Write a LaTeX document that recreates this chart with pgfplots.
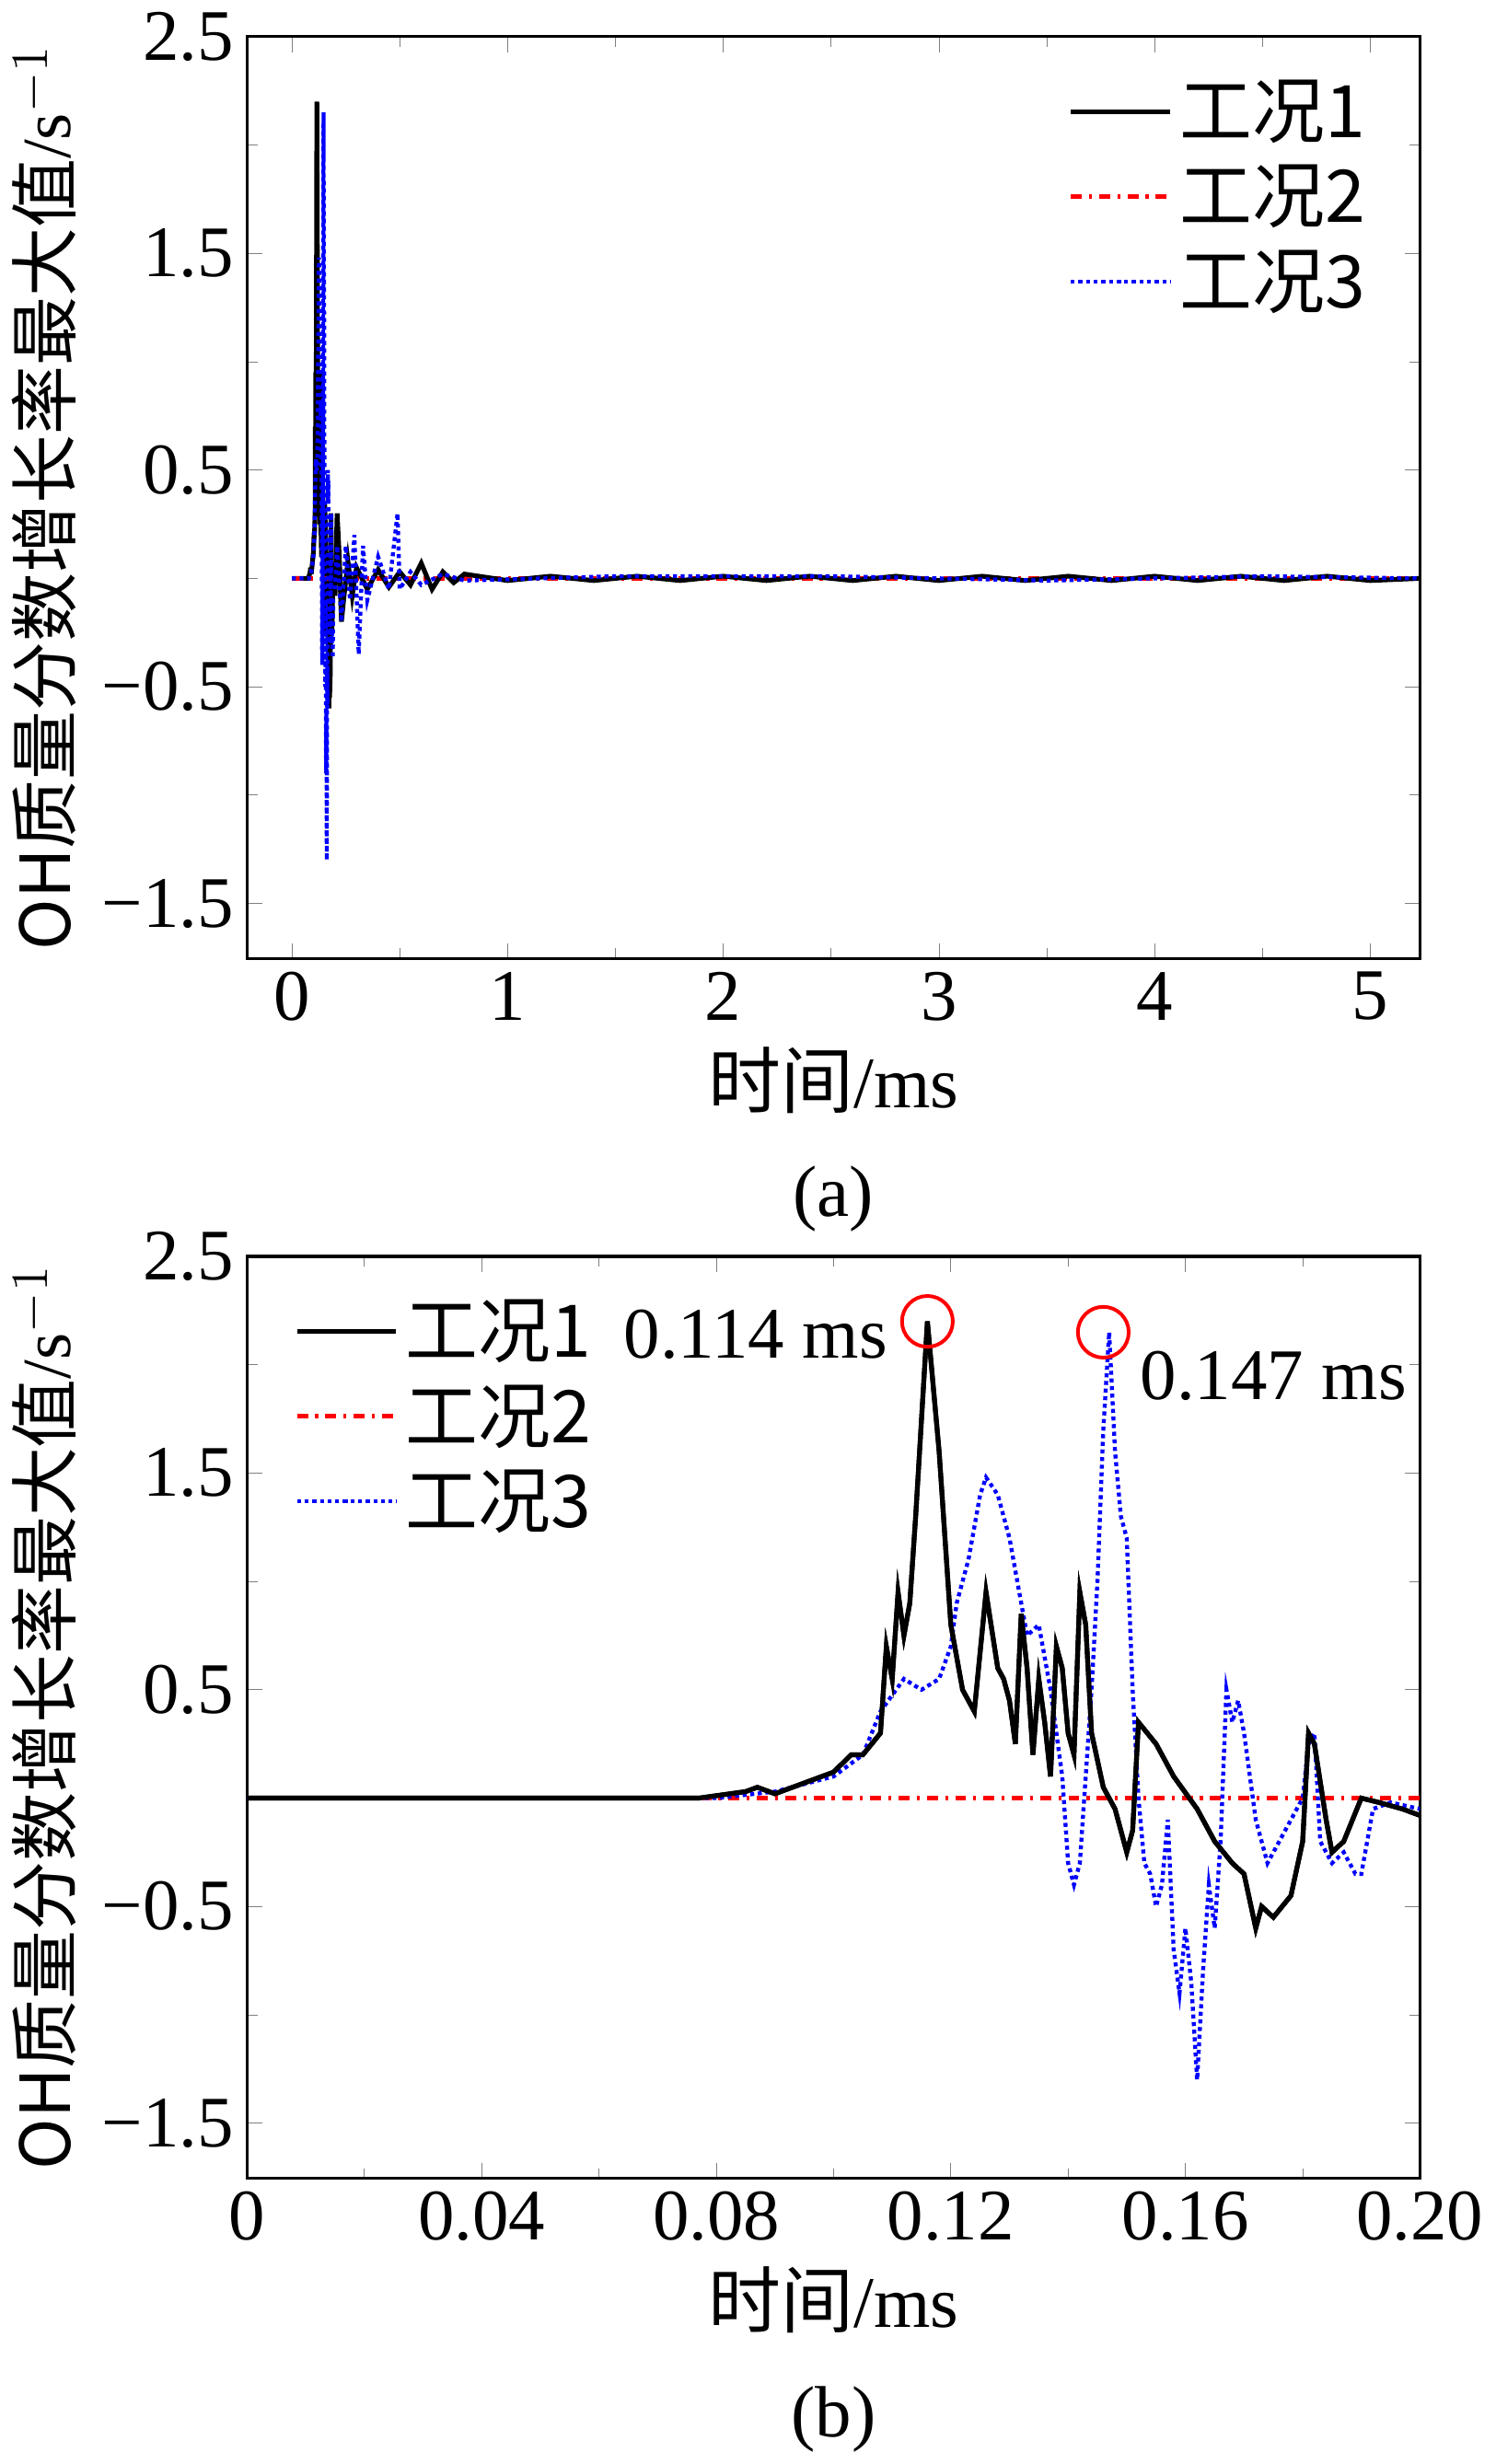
\documentclass[border=0pt]{standalone}
\usepackage{pgfplots}
\usepackage{pgfplotstable}
\pgfplotsset{compat=1.18}
\usepackage{fontspec}
\setmainfont{Liberation Serif}
\newfontfamily\cjk{Noto Sans CJK SC}
\pgfplotstableread{
x y
0 0
0.077 0
0.085 0.03
0.087 0.05
0.09 0.02
0.095 0.07
0.1 0.12
0.103 0.2
0.105 0.2
0.108 0.3
0.109 0.7
0.110 0.55
0.111 0.95
0.112 0.75
0.113 0.9
0.114 1.3
0.116 2.2
0.118 1.6
0.120 0.8
0.122 0.5
0.124 0.4
0.126 0.95
0.128 0.6
0.129 0.55
0.130 0.45
0.131 0.25
0.132 0.85
0.133 0.6
0.134 0.2
0.135 0.55
0.136 0.35
0.137 0.1
0.138 0.7
0.139 0.6
0.140 0.3
0.141 0.2
0.142 0.95
0.143 0.8
0.144 0.3
0.146 0.05
0.148 -0.05
0.150 -0.25
0.151 -0.15
0.152 0.35
0.155 0.25
0.158 0.1
0.162 -0.05
0.165 -0.2
0.168 -0.3
0.170 -0.35
0.172 -0.6
0.173 -0.5
0.175 -0.55
0.178 -0.45
0.180 -0.2
0.181 0.3
0.182 0.25
0.184 -0.1
0.185 -0.25
0.187 -0.2
0.19 0.0
0.193 -0.02
0.197 -0.05
0.2 -0.08
}\caseA
\pgfplotstableread{
x y
0.2 -0.08
0.21 0.3
0.22 0.1
0.23 -0.2
0.24 -0.1
0.26 0.08
0.28 -0.08
0.3 0.05
0.35 -0.05
0.4 0.04
0.45 -0.04
0.5 0.03
0.55 -0.03
0.6 0.07
0.65 -0.05
0.7 0.03
0.75 -0.02
0.8 0.02
1.0 -0.01
1.2 0.01
1.4 -0.01
1.6 0.01
1.8 -0.01
2.0 0.01
2.2 -0.01
2.4 0.01
2.6 -0.01
2.8 0.01
3.0 -0.01
3.2 0.01
3.4 -0.01
3.6 0.01
3.8 -0.01
4.0 0.01
4.2 -0.01
4.4 0.01
4.6 -0.01
4.8 0.01
5.0 -0.01
5.23 0
}\caseAtail
\pgfplotstableread{
x y
0 0
0.08 0
0.09 0.03
0.1 0.1
0.105 0.2
0.108 0.4
0.112 0.55
0.115 0.5
0.118 0.55
0.12 0.7
0.121 0.9
0.123 1.1
0.125 1.4
0.126 1.48
0.128 1.4
0.130 1.2
0.132 0.9
0.133 0.75
0.135 0.8
0.137 0.5
0.139 0.1
0.140 -0.3
0.141 -0.4
0.142 -0.3
0.143 0.1
0.144 0.5
0.145 1.0
0.146 1.7
0.147 2.15
0.148 1.6
0.149 1.3
0.150 1.2
0.151 0.5
0.152 0.0
0.153 -0.3
0.154 -0.35
0.155 -0.5
0.156 -0.4
0.157 -0.1
0.158 -0.7
0.159 -0.9
0.160 -0.6
0.161 -0.85
0.162 -1.3
0.163 -0.8
0.164 -0.4
0.165 -0.6
0.166 -0.2
0.167 0.5
0.168 0.35
0.169 0.45
0.170 0.3
0.172 -0.1
0.174 -0.3
0.176 -0.2
0.178 -0.1
0.180 0.0
0.181 0.25
0.182 0.3
0.183 -0.2
0.185 -0.3
0.187 -0.25
0.189 -0.35
0.190 -0.35
0.192 -0.05
0.195 -0.02
0.2 -0.05
}\caseC
\pgfplotstableread{
x y
0.2 -0.05
0.21 0.15
0.23 -0.2
0.25 0.15
0.27 -0.1
0.29 0.2
0.31 -0.35
0.33 0.15
0.35 -0.1
0.4 0.1
0.45 -0.05
0.49 0.3
0.5 -0.05
0.55 0.03
0.6 -0.03
0.7 0.02
0.8 -0.01
1.5 0.01
2.5 0.01
3.5 -0.01
4.5 0.01
5.23 0
}\caseCtail
\pgfplotsset{
  every axis/.style={font=\fontsize{20}{24}\selectfont},
  ax/.style={scale only axis, width=323pt, height=254pt,
    ymin=-1.755, ymax=2.5, ytick={-1.5,-0.5,0.5,1.5,2.5},
    yticklabels={−1.5,−0.5,0.5,1.5,2.5},
    minor y tick num=1, minor x tick num=1,
    tick align=inside, line width=0.8pt,
    /pgf/number format/assume math mode=true,
    ylabel={{\cjk OH质量分数增长率最大值}/s$^{-1}$},
    ylabel style={font=\fontsize{19}{22}\selectfont},
    legend style={draw=none, fill=none, font=\fontsize{20}{24}\selectfont, row sep=2pt},
    legend cell align=left,
    legend image post style={xscale=1.6},
  },
  s1/.style={black, line width=1.3pt},
  s2/.style={red, dash dot, line width=1.2pt},
  s3/.style={blue, densely dotted, line width=1.1pt},
}
\begin{document}
\begin{tikzpicture}
\begin{axis}[ax, name=a, xmin=-0.207, xmax=5.23, xtick={0,1,2,3,4,5},
  legend pos=north east,
  xlabel style={align=center}, xlabel={{\cjk 时间}/ms\\[6pt](a)}]
\addplot[s1] table {\caseA};
\addlegendentry{\cjk 工况1}
\addplot[s2] coordinates {(0,0) (5.23,0)};
\addlegendentry{\cjk 工况2}
\addplot[s3] table {\caseC};
\addlegendentry{\cjk 工况3}
\addplot[s1, forget plot] table {\caseAtail};
\addplot[s3, forget plot] table {\caseCtail};
\end{axis}
\begin{axis}[ax, at={(0,-336pt)}, xmin=0, xmax=0.2,
  xtick={0,0.04,0.08,0.12,0.16,0.2},
  xticklabels={0,0.04,0.08,0.12,0.16,0.20},
  legend pos=north west,
  xlabel style={align=center}, xlabel={{\cjk 时间}/ms\\[6pt](b)}]
\addplot[s1] table {\caseA};
\addlegendentry{\cjk 工况1}
\addplot[s2] coordinates {(0,0) (0.2,0)};
\addlegendentry{\cjk 工况2}
\addplot[s3] table {\caseC};
\addlegendentry{\cjk 工况3}
\addplot[s1] table {\caseA};
\addplot[red, only marks, mark=o, mark size=7pt, line width=1pt, forget plot] coordinates {(0.116,2.2) (0.146,2.15)};
\node[anchor=east] at (axis cs:0.1115,2.14) {0.114 ms};
\node[anchor=west] at (axis cs:0.150,1.95) {0.147 ms};
\end{axis}
\end{tikzpicture}
\end{document}
